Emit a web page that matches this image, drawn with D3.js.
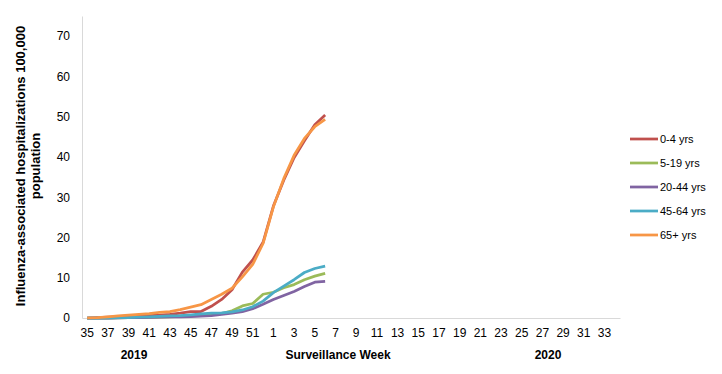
<!DOCTYPE html>
<html>
<head>
<meta charset="utf-8">
<script src="https://cdn.jsdelivr.net/npm/d3@7"></script>
<style>
  body { margin: 0; background: #fff; }
  svg { display: block; }
  text { font-family: "Liberation Sans", Arial, sans-serif; }
</style>
</head>
<body>
<svg width="722" height="374"></svg>
<script>
// surveillance weeks 35-52 of 2019, then 1-34 of 2020
var weeks = d3.range(35, 53).concat(d3.range(1, 35));
var yTicks = [0, 10, 20, 30, 40, 50, 60, 70];

var seriesNames = ["0-4 yrs", "5-19 yrs", "20-44 yrs", "45-64 yrs", "65+ yrs"];
var seriesColors = ["#c0504d", "#9bbb59", "#8064a2", "#4bacc6", "#f79646"];

// cumulative rates, week 35 (2019) to week 6 (2020)
var age0_4   = [0, 0.1, 0.2, 0.3, 0.4, 0.5, 0.6, 0.7, 0.9, 1.2, 1.6, 1.6, 2.9, 4.6, 7.0, 11.4, 14.4, 18.8, 27.8, 34.2, 39.8, 44.0, 48.0, 50.4];
var age5_19  = [0, 0, 0, 0.05, 0.1, 0.1, 0.15, 0.2, 0.3, 0.4, 0.5, 0.6, 0.8, 1.1, 1.8, 3.0, 3.6, 5.9, 6.4, 7.5, 8.3, 9.5, 10.4, 11.1];
var age20_44 = [0, 0, 0, 0.05, 0.1, 0.1, 0.15, 0.2, 0.25, 0.3, 0.35, 0.45, 0.6, 0.9, 1.2, 1.6, 2.3, 3.4, 4.6, 5.6, 6.6, 7.8, 8.9, 9.1];
var age45_64 = [0, 0, 0.05, 0.1, 0.1, 0.2, 0.3, 0.4, 0.5, 0.6, 0.8, 1.0, 1.2, 1.3, 1.5, 2.0, 2.8, 4.2, 6.3, 7.9, 9.5, 11.3, 12.3, 12.9];
var age65    = [0, 0.1, 0.3, 0.5, 0.7, 0.9, 1.1, 1.4, 1.6, 2.1, 2.7, 3.3, 4.6, 5.9, 7.4, 10.2, 13.3, 18.5, 27.6, 34.6, 40.4, 44.6, 47.5, 49.3];
var seriesValues = [age0_4, age5_19, age20_44, age45_64, age65];

var svg = d3.select("svg");

var x = d3.scaleBand()
    .domain(weeks.map(function(w, i) { return i; }))
    .range([82, 620]);

var y = d3.scaleLinear()
    .domain([0, 75])
    .range([318, 16]);

/// axes ///
var yAxis = svg.append("g")
    .attr("transform", "translate(82,0)")
    .call(d3.axisLeft(y).tickValues(yTicks).tickSize(0).tickPadding(12));
yAxis.select(".domain").attr("stroke", "#d9d9d9");
yAxis.selectAll("text").attr("font-size", 12).attr("fill", "#000")
    .attr("font-family", "Liberation Sans, Arial, sans-serif");

var xAxis = svg.append("g")
    .attr("transform", "translate(0,318)")
    .call(d3.axisBottom(x)
      .tickValues(d3.range(0, weeks.length, 2))
      .tickFormat(function(i) { return weeks[i]; })
      .tickSize(0).tickPadding(10));
xAxis.select(".domain").attr("stroke", "#d9d9d9");
xAxis.selectAll("text").attr("font-size", 12).attr("fill", "#000")
    .attr("font-family", "Liberation Sans, Arial, sans-serif");

// year and axis titles
svg.append("text").attr("x", 134).attr("y", 359).attr("text-anchor", "middle")
    .attr("font-size", 12).attr("font-weight", "bold").text("2019");
svg.append("text").attr("x", 338).attr("y", 359).attr("text-anchor", "middle")
    .attr("font-size", 12).attr("font-weight", "bold").text("Surveillance Week");
svg.append("text").attr("x", 548).attr("y", 359).attr("text-anchor", "middle")
    .attr("font-size", 12).attr("font-weight", "bold").text("2020");

var yTitle = svg.append("text")
    .attr("transform", "translate(25,166) rotate(-90)")
    .attr("text-anchor", "middle")
    .attr("font-size", 13).attr("font-weight", "bold");
yTitle.append("tspan").attr("x", 0).attr("y", 0).text("Influenza-associated hospitalizations 100,000");
yTitle.append("tspan").attr("x", 0).attr("y", 15).text("population");

/// lines ///
var line = d3.line()
    .x(function(d, i) { return x(i) + x.bandwidth() / 2; })
    .y(function(d) { return y(d); });

svg.append("g").selectAll("path")
  .data(seriesValues)
  .enter().append("path")
    .attr("fill", "none")
    .attr("stroke", function(d, i) { return seriesColors[i]; })
    .attr("stroke-width", 2.75)
    .attr("stroke-linejoin", "round")
    .attr("d", line);

/// legend ///
var legend = svg.append("g").selectAll("g")
  .data(seriesNames)
  .enter().append("g")
    .attr("transform", function(d, i) { return "translate(630," + (139 + i * 24) + ")"; });

legend.append("line")
    .attr("x1", 0).attr("x2", 28)
    .attr("stroke", function(d, i) { return seriesColors[i]; })
    .attr("stroke-width", 2.75);

legend.append("text")
    .attr("x", 30).attr("y", 4)
    .attr("font-size", 11)
    .attr("font-family", "Open Sans, sans-serif")
    .text(function(d) { return d; });
</script>
</body>
</html>
